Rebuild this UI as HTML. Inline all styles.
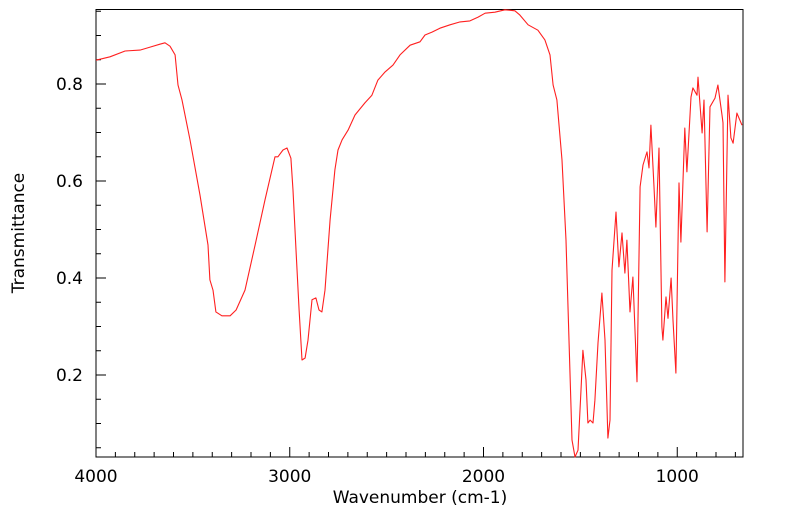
<!DOCTYPE html>
<html><head><meta charset="utf-8"><style>
html,body{margin:0;padding:0;background:#fff;}
svg{display:block;font-family:"DejaVu Sans","Liberation Sans",sans-serif;}
</style></head><body>
<svg id="chart" width="799" height="516" viewBox="0 0 799 516" xmlns="http://www.w3.org/2000/svg">
<rect x="96" y="9.5" width="647" height="447.5" fill="none" stroke="#000" stroke-width="1"/>
<g id="ticks"></g>
<path id="line" fill="none" stroke="#ff2020" stroke-width="1.1" stroke-linejoin="round"/>
<text x="420" y="503" font-size="17" text-anchor="middle">Wavenumber (cm-1)</text>
<text transform="translate(24,233) rotate(-90)" font-size="17" text-anchor="middle">Transmittance</text>
</svg>
<script>
const wavenumbers=[4000,3928,3850,3773,3721,3670,3644,3618,3592,3577,3556,3515,3463,3422,3412,3396,3381,3350,3308,3277,3231,3179,3128,3076,3061,3035,3014,2994,2983,2968,2952,2937,2921,2906,2885,2865,2849,2834,2818,2792,2767,2751,2730,2699,2663,2612,2576,2545,2508,2467,2431,2379,2328,2302,2266,2225,2173,2121,2070,2028,1992,1941,1889,1838,1812,1770,1719,1683,1657,1641,1621,1595,1574,1554,1543,1528,1512,1497,1487,1471,1461,1450,1435,1425,1409,1389,1373,1358,1347,1337,1316,1301,1285,1270,1260,1244,1229,1208,1192,1177,1156,1146,1136,1120,1110,1094,1079,1074,1058,1048,1032,1022,1007,991,981,961,950,929,919,898,893,872,862,846,831,805,790,769,764,754,738,723,712,692,666];
const transmittance=[0.849,0.856,0.868,0.870,0.876,0.882,0.885,0.878,0.860,0.798,0.767,0.685,0.571,0.468,0.396,0.375,0.330,0.322,0.322,0.334,0.375,0.468,0.561,0.650,0.650,0.664,0.668,0.647,0.581,0.458,0.334,0.231,0.235,0.272,0.355,0.359,0.334,0.330,0.375,0.520,0.623,0.664,0.685,0.705,0.736,0.761,0.777,0.808,0.825,0.839,0.860,0.880,0.887,0.901,0.907,0.915,0.922,0.928,0.930,0.938,0.946,0.948,0.953,0.951,0.942,0.922,0.911,0.891,0.860,0.798,0.767,0.643,0.478,0.210,0.066,0.031,0.045,0.169,0.251,0.190,0.101,0.107,0.101,0.148,0.266,0.369,0.272,0.070,0.107,0.416,0.536,0.423,0.493,0.410,0.478,0.330,0.402,0.186,0.588,0.633,0.660,0.627,0.715,0.588,0.505,0.668,0.299,0.272,0.361,0.317,0.400,0.313,0.204,0.596,0.474,0.709,0.619,0.773,0.792,0.777,0.814,0.699,0.767,0.495,0.753,0.771,0.798,0.736,0.720,0.392,0.777,0.689,0.678,0.740,0.715];
const yTickLabels=["0.2","0.4","0.6","0.8"];
const xTickLabels=["4000","3000","2000","1000"];
const X0=96,X1=743,Y0=9.5,Y1=457;
const W_LEFT=4000,W_RIGHT=4000-(X1-X0)/0.19375;
const T_TOP=0.8+(84-Y0)/485,T_BOT=0.8-(Y1-84)/485;
function xs(w){return X0+(W_LEFT-w)/(W_LEFT-W_RIGHT)*(X1-X0);}
function ys(t){return Y1-(t-T_BOT)/(T_TOP-T_BOT)*(Y1-Y0);}
const NS="http://www.w3.org/2000/svg";
const svg=document.getElementById('chart');
const tg=document.getElementById('ticks');
function ln(x1,y1,x2,y2,name){const l=document.createElementNS(NS,'line');
l.setAttribute('x1',x1);l.setAttribute('y1',y1);l.setAttribute('x2',x2);l.setAttribute('y2',y2);
l.setAttribute('stroke','#000');l.setAttribute('stroke-width','1');


tg.appendChild(l);}
function tx(x,y,s,anchor,name){const t=document.createElementNS(NS,'text');
t.setAttribute('x',x);t.setAttribute('y',y);t.setAttribute('font-size','17');t.setAttribute('text-anchor',anchor);t.textContent=s;


svg.appendChild(t);}
for(let k=1;k<=19;k++){const v=k*0.05;if(v<T_BOT||v>T_TOP)continue;const y=ys(v);const major=(k%4===0);
ln(X0,y,X0+(major?10:5),y,major?'y-major-tick':'y-minor-tick');}
yTickLabels.forEach(s=>{tx(83,ys(parseFloat(s))+6,s,'end','y-tick-label');});
for(let w=4000;w>=W_RIGHT;w-=100){const x=xs(w);const major=(w%1000===0);
ln(x,Y1,x,Y1-(major?10:5),major?'x-major-tick':'x-minor-tick');}
xTickLabels.forEach(s=>{tx(xs(parseFloat(s)),482,s,'middle','x-tick-label');});
let d='';
wavenumbers.forEach((w,i)=>{d+=(i?'L':'M')+xs(w).toFixed(1)+','+ys(transmittance[i]).toFixed(1);});
document.getElementById('line').setAttribute('d',d);
</script>
</body></html>
